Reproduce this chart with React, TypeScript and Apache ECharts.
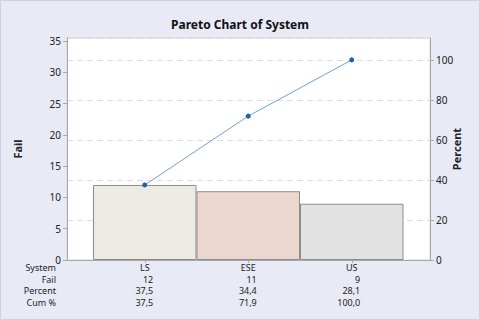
import React, { useEffect, useRef } from "react";
import * as echarts from "echarts";

const systems = ["LS", "ESE", "US"];
const failCounts = [12, 11, 9];
const percents = [37.5, 34.4, 28.1];
const cumPercents = [37.5, 71.9, 100.0];
const rowNames = ["System", "Fail", "Percent", "Cum %"];
const barColors = ["#ede9e3", "#ecd6d0", "#e2e2e2"];
const leftTicks = { min: 0, interval: 5 };
const rightTicks = { min: 0, interval: 20 };
const total = 32;

const FONT = "'Noto Sans', sans-serif";
const fmt = (v: number) => v.toFixed(1).replace(".", ",");

export default function App() {
  const ref = useRef<HTMLDivElement>(null);
  useEffect(() => {
    document.body.style.margin = "0";
    if (!ref.current) return;
    const chart = echarts.init(ref.current, undefined, { renderer: "svg" });
    const leftMax = 35.5;
    const rightMax = (100 * leftMax) / total;
    const labelColor = "#222";
    const axisLineColor = "#a8a8a8";
    const plotBottom = 260;
    const rowOffsets = [0, 11.5, 23, 34.5];
    const tableFont = 9;
    const rowAxis = (offset: number, values: string[]) => ({
      type: "category",
      gridIndex: 1,
      data: systems,
      position: "bottom",
      offset,
      axisLine: { show: false },
      axisTick: { show: false },
      axisLabel: {
        interval: 0,
        margin: 2.5,
        lineHeight: 10,
        color: labelColor,
        fontFamily: FONT,
        fontSize: tableFont,
        formatter: (_v: string, i: number) => `{v|${values[i]}}`,
        rich: { v: { width: 17, align: "right", lineHeight: 10, fontFamily: FONT, fontSize: tableFont, color: labelColor } },
      },
    });
    chart.setOption({
      animation: false,
      backgroundColor: "#e8eaf6",
      textStyle: { fontFamily: FONT },
      title: {
        text: "Pareto Chart of System",
        left: "center",
        top: 13,
        textStyle: { fontFamily: FONT, fontSize: 12, fontWeight: "bold", color: "#111" },
      },
      graphic: [
        {
          type: "rect",
          shape: { x: 0.5, y: 0.5, width: 479, height: 319 },
          style: { fill: "none", stroke: "#cfd1dc", lineWidth: 1 },
          silent: true,
        },
        ...rowNames.map((t, i) => ({
          type: "text",
          x: 56,
          y: plotBottom + rowOffsets[i] + 7.5,
          silent: true,
          style: {
            text: t,
            align: "right",
            verticalAlign: "middle",
            fill: labelColor,
            font: `${tableFont}px ${FONT}`,
          },
        })),
      ],
      grid: [
        { left: 67, right: 50, top: 38, bottom: 60, show: true, backgroundColor: "#ffffff", borderColor: "#d4d4d4", borderWidth: 1 },
        { left: 93, right: 76.5, top: 38, bottom: 60 },
      ],
      xAxis: [
        {
          type: "value",
          gridIndex: 0,
          min: 0,
          max: 1,
          axisLine: { show: true, lineStyle: { color: axisLineColor } },
          axisTick: { show: false },
          axisLabel: { show: false },
          splitLine: { show: false },
        },
        {
          type: "category",
          gridIndex: 1,
          data: systems,
          position: "bottom",
          axisLine: { show: false },
          axisTick: { show: true, alignWithLabel: true, length: 3, lineStyle: { color: axisLineColor } },
          axisLabel: { interval: 0, margin: 2.5, lineHeight: 10, color: labelColor, fontFamily: FONT, fontSize: tableFont },
        },
        rowAxis(rowOffsets[1], failCounts.map(String)),
        rowAxis(rowOffsets[2], percents.map(fmt)),
        rowAxis(rowOffsets[3], cumPercents.map(fmt)),
      ],
      yAxis: [
        {
          type: "value",
          gridIndex: 0,
          position: "left",
          min: leftTicks.min,
          max: leftMax,
          interval: leftTicks.interval,
          axisLine: { show: true, lineStyle: { color: axisLineColor } },
          axisTick: { show: true, length: 4, lineStyle: { color: axisLineColor } },
          axisLabel: { margin: 6, color: labelColor, fontFamily: FONT, fontSize: 10, showMaxLabel: false },
          splitLine: { show: false },
          name: "Fail",
          nameLocation: "middle",
          nameGap: 44,
          nameMoveOverlap: false,
          nameTextStyle: { color: labelColor, fontFamily: FONT, fontSize: 11, fontWeight: "bold" },
        },
        {
          type: "value",
          gridIndex: 0,
          position: "right",
          min: rightTicks.min,
          max: rightMax,
          interval: rightTicks.interval,
          axisLine: { show: true, lineStyle: { color: axisLineColor } },
          axisTick: { show: true, length: 4, lineStyle: { color: axisLineColor } },
          axisLabel: { margin: 6, color: labelColor, fontFamily: FONT, fontSize: 10, showMaxLabel: false },
          splitLine: { show: true, lineStyle: { color: "#dcdcdc", type: [6, 4] } },
          name: "Percent",
          nameLocation: "middle",
          nameGap: 21,
          nameRotate: 90,
          nameMoveOverlap: false,
          nameTextStyle: { color: labelColor, fontFamily: FONT, fontSize: 11, fontWeight: "bold" },
        },
        { type: "value", gridIndex: 1, min: 0, max: leftMax, show: false },
        { type: "value", gridIndex: 1, min: 0, max: rightMax, show: false },
      ],
      series: [
        {
          type: "bar",
          xAxisIndex: 1,
          yAxisIndex: 2,
          barCategoryGap: 0,
          barWidth: "100%",
          data: failCounts.map((v, i) => ({
            value: v,
            itemStyle: { color: barColors[i], borderColor: "#8c8c8c", borderWidth: 1 },
          })),
        },
        {
          type: "line",
          xAxisIndex: 1,
          yAxisIndex: 3,
          data: cumPercents,
          symbol: "circle",
          symbolSize: 5,
          lineStyle: { color: "#6f9fdc", width: 1 },
          itemStyle: { color: "#1f5fae" },
          z: 5,
        },
      ],
    });
    return () => chart.dispose();
  }, []);
  return <div ref={ref} style={{ width: 480, height: 320 }} />;
}
